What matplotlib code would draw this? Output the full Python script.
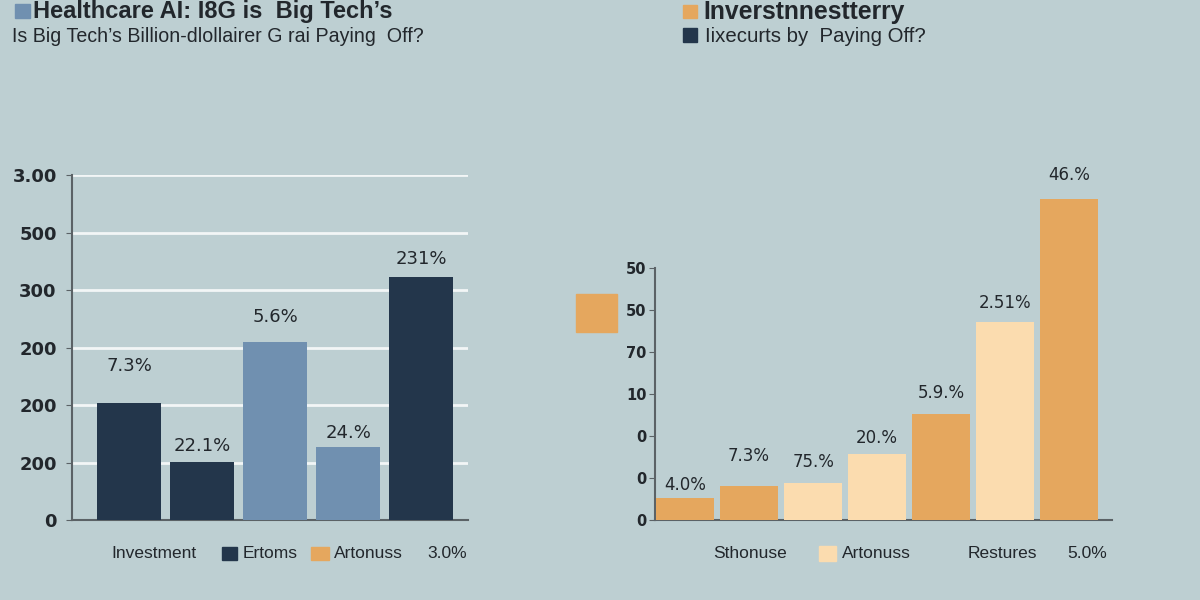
import matplotlib.pyplot as plt
from matplotlib.patches import Rectangle

# left chart
left_vals = [203, 101, 310, 127, 423]
left_labels = ["7.3%", "22.1%", "5.6%", "24.%", "231%"]
left_colors = ["#23364b", "#23364b", "#7090b0", "#7090b0", "#23364b"]
left_ticks = [0, 100, 200, 300, 400, 500, 600]
left_ticklabels = ["0", "200", "200", "200", "300", "500", "3.00"]

# right chart
right_vals = [5.2, 8.1, 8.8, 15.7, 25.2, 47.1, 76.4]
right_labels = ["4.0%", "7.3%", "75.%", "20.%", "5.9.%", "2.51%", "46.%"]
right_colors = ["#e5a75e", "#e5a75e", "#fbdcaf", "#fbdcaf", "#e5a75e", "#fbdcaf", "#e5a75e"]
right_ticks = [0, 10, 20, 30, 40, 50, 60]
right_ticklabels = ["0", "0", "0", "10", "70", "50", "50"]

bg = "#bdcfd2"
txt = "#22272c"
spine_c = "#5b6266"

fig = plt.figure(figsize=(12, 6), dpi=100, facecolor=bg)

# ---- left axes
ax1 = fig.add_axes([0.06, 0.1333, 0.33, 0.575], facecolor=bg)
ax1.set_ylim(0, 600)
ax1.set_xlim(-0.78, 4.64)
ax1.set_yticks(left_ticks)
ax1.set_yticklabels(left_ticklabels, fontsize=13, fontweight="bold", color=txt)
ax1.yaxis.grid(True, color="#f2f6f6", lw=2)
ax1.set_axisbelow(True)
ax1.set_xticks([])
for s in ["top", "right"]:
    ax1.spines[s].set_visible(False)
for s in ["left", "bottom"]:
    ax1.spines[s].set_color(spine_c)
    ax1.spines[s].set_linewidth(1.5)
ax1.tick_params(axis="y", length=4, color=spine_c, pad=7)

bars = ax1.bar(range(len(left_vals)), left_vals, width=0.88, color=left_colors, zorder=3)
left_off = [37, 16, 25, 14, 18]  # px above bar top
for b, lab, off in zip(bars, left_labels, left_off):
    ax1.annotate(lab, (b.get_x() + b.get_width() / 2, b.get_height()),
                 xytext=(0, off * 0.72), textcoords="offset points",
                 ha="center", va="center", fontsize=13, color=txt)

# ---- right axes
ax2 = fig.add_axes([0.5458, 0.1333, 0.381, 0.6], facecolor="none")
ax2.set_ylim(0, 85.7)
ax2.set_xlim(-0.47, 6.67)
ax2.set_yticks(right_ticks)
ax2.set_yticklabels(right_ticklabels, fontsize=10.5, fontweight="bold", color=txt)
ax2.set_xticks([])
for s in ["top", "right"]:
    ax2.spines[s].set_visible(False)
for s in ["left", "bottom"]:
    ax2.spines[s].set_color(spine_c)
    ax2.spines[s].set_linewidth(1.5)
ax2.spines["left"].set_bounds(0, 60)
ax2.tick_params(axis="y", length=4, color=spine_c, pad=2)

bars = ax2.bar(range(len(right_vals)), right_vals, width=0.9, color=right_colors, zorder=3)
right_off = [13, 30, 21, 16, 21, 19, 24]
for b, lab, off in zip(bars, right_labels, right_off):
    ax2.annotate(lab, (b.get_x() + b.get_width() / 2, b.get_height()),
                 xytext=(0, off * 0.72), textcoords="offset points",
                 ha="center", va="center", fontsize=12, color=txt)

# ---- titles
fam = ["Liberation Sans", "DejaVu Sans"]
fig.text(33 / 1200, 1 - 18 / 600, "Healthcare AI: I8G is  Big Tech’s", fontsize=17,
         fontweight="bold", color=txt, family=fam, va="baseline")
fig.text(12 / 1200, 1 - 42 / 600, "Is Big Tech’s Billion-dlollairer G rai Paying  Off?", fontsize=14.1,
         color=txt, family=fam, va="baseline")
fig.text(703 / 1200, 1 - 19 / 600, "Inverstnnestterry", fontsize=17.8,
         fontweight="bold", color=txt, family=fam, va="baseline")
fig.text(705 / 1200, 1 - 42 / 600, "Iixecurts by  Paying Off?", fontsize=14.7,
         color=txt, family=fam, va="baseline")


def square(x0, y0, x1, y1, color):
    fig.patches.append(Rectangle((x0 / 1200, 1 - y1 / 600), (x1 - x0) / 1200, (y1 - y0) / 600,
                                 transform=fig.transFigure, color=color, zorder=5))


square(15, 4, 30, 18, "#7090b0")
square(683, 5, 697, 18, "#e5a75e")
square(683, 28, 697, 42, "#23364b")
square(576, 294, 617, 332, "#e5a75e")

# ---- bottom legend
legend_items = [("Investment", 111), ("Ertoms", 243), ("Artonuss", 334), ("3.0%", 427),
                ("Sthonuse", 713), ("Artonuss", 842), ("Restures", 968), ("5.0%", 1067)]
for lab, x in legend_items:
    fig.text(x / 1200, 1 - 553 / 600, lab, fontsize=12.5, color=txt, va="center",
             family=["Liberation Sans Narrow", "Liberation Sans", "DejaVu Sans"])
square(222, 547, 237, 560, "#23364b")
square(311, 547, 329, 560, "#e5a75e")
square(819, 546, 836, 561, "#fbdcaf")

fig.savefig("out.png", dpi=100, facecolor=bg)
